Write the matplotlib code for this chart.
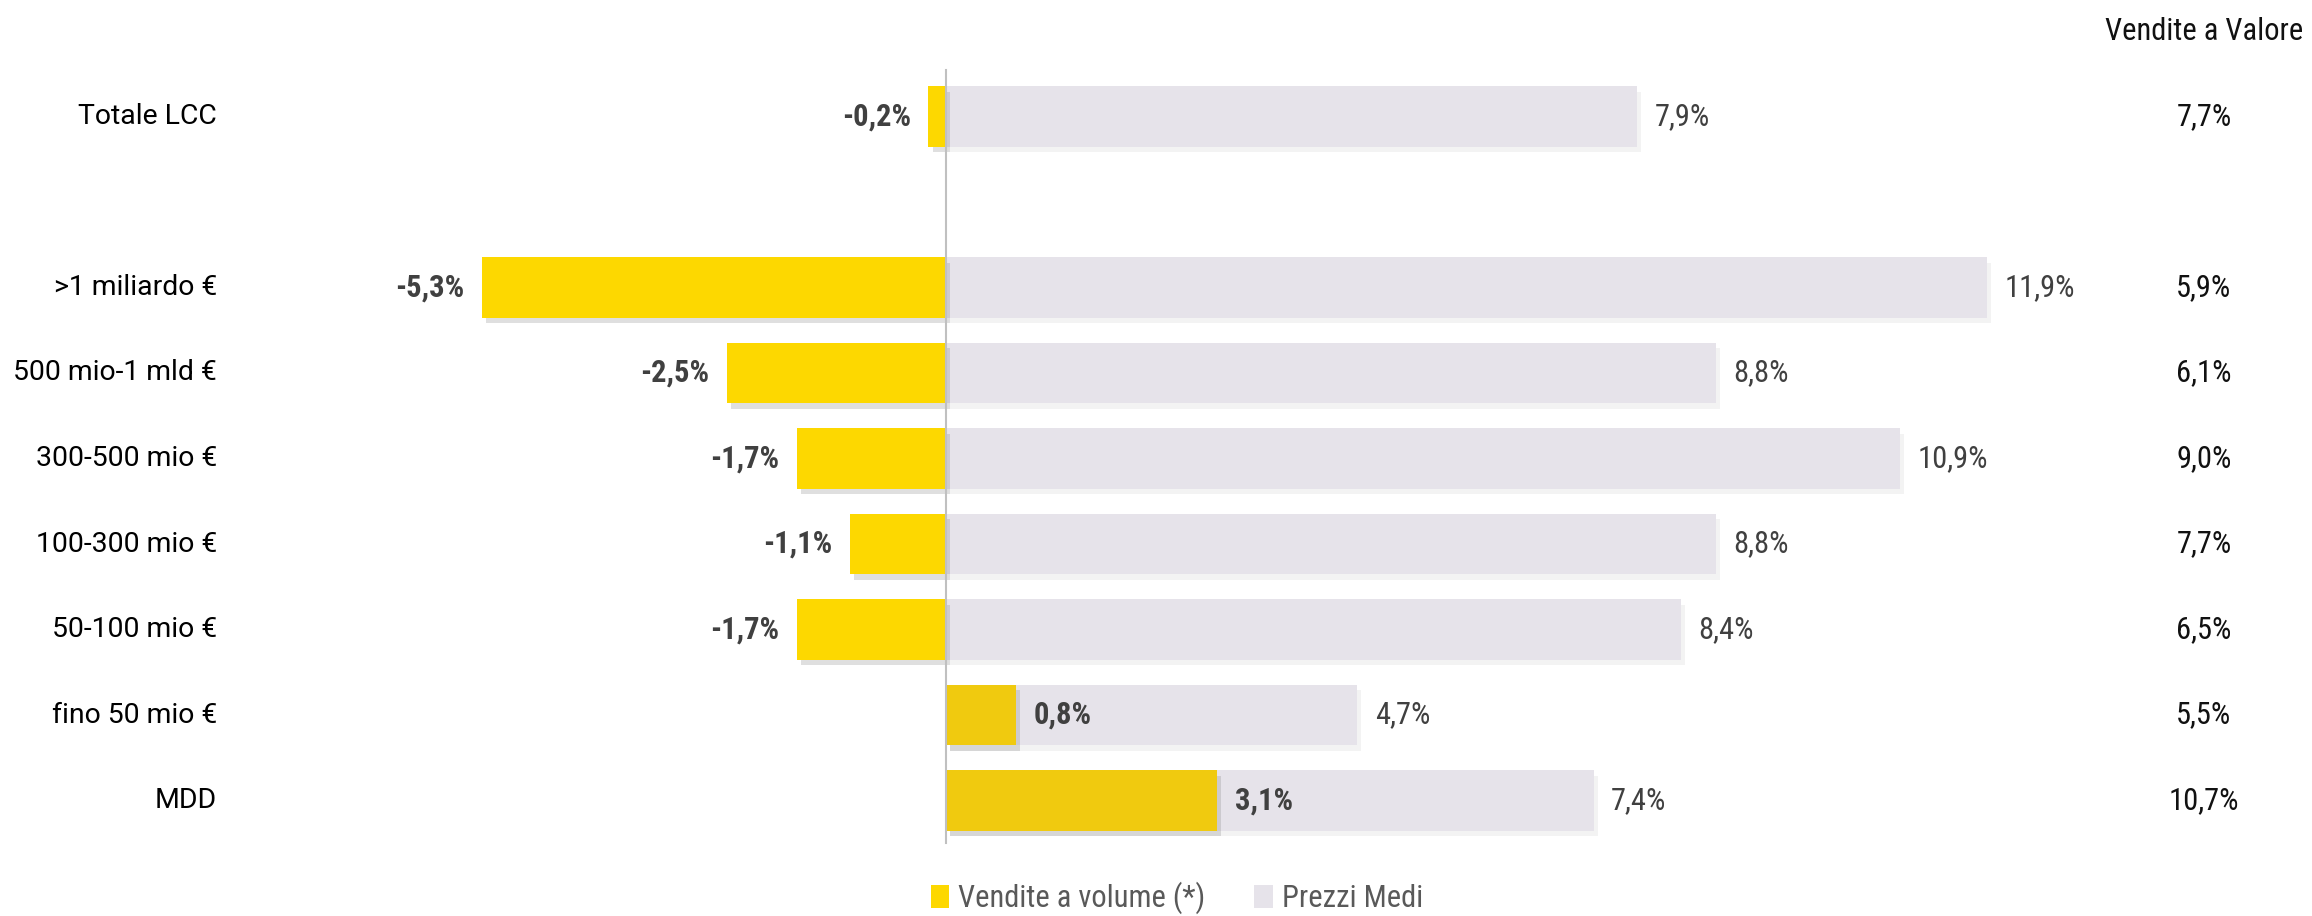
import matplotlib.pyplot as plt
import matplotlib.patheffects as pe
from matplotlib.patches import Patch


categories = [
    "Totale LCC",
    ">1 miliardo €",
    "500 mio-1 mld €",
    "300-500 mio €",
    "100-300 mio €",
    "50-100 mio €",
    "fino 50 mio €",
    "MDD",
]
vendite_volume = [-0.2, -5.3, -2.5, -1.7, -1.1, -1.7, 0.8, 3.1]
prezzi_medi = [7.9, 11.9, 8.8, 10.9, 8.8, 8.4, 4.7, 7.4]
vendite_valore = [7.7, 5.9, 6.1, 9.0, 7.7, 6.5, 5.5, 10.7]

YELLOW_NEG = "#FDD800"
YELLOW_POS = "#F0CA0F"
GREY_BAR = "#E6E3EA"
LABEL_COLOR = "#404040"
LABEL_FONT = "Roboto"
VALUE_FONT = ["Roboto Condensed", "Liberation Sans Narrow", "DejaVu Sans"]

W, H = 2312, 916
PX_PER_UNIT = 87.5
ZERO_PX = 946
ROW_TOP_PX = 116.5
ROW_STEP_PX = 85.5
BAR_HEIGHT = 0.71


def fmt(v):
    return f"{v:.1f}".replace(".", ",") + "%"


# the total row sits apart from the size classes, with one empty slot between
ypos = [0] + [i + 1 for i in range(1, len(categories))]

fig = plt.figure(figsize=(W / 100, H / 100), dpi=100)
ax = fig.add_axes([0, 0, 1, 1])
ax.set_xlim(-ZERO_PX / PX_PER_UNIT, (W - ZERO_PX) / PX_PER_UNIT)
ax.set_ylim((H - ROW_TOP_PX) / ROW_STEP_PX, -ROW_TOP_PX / ROW_STEP_PX)
ax.axis("off")

shadow = [pe.SimplePatchShadow(offset=(3, -4), shadow_rgbFace="#808080", alpha=0.25), pe.Normal()]
shadow_light = [pe.SimplePatchShadow(offset=(3, -4), shadow_rgbFace="#b0b0b0", alpha=0.15), pe.Normal()]

grey = ax.barh(ypos, prezzi_medi, height=BAR_HEIGHT, color=GREY_BAR, zorder=1)
for b in grey:
    b.set_path_effects(shadow_light)

vol_colors = [YELLOW_POS if v > 0 else YELLOW_NEG for v in vendite_volume]
yellow = ax.barh(ypos, vendite_volume, height=BAR_HEIGHT, color=vol_colors, zorder=2)
for b in yellow:
    b.set_path_effects(shadow)

# zero line
ax.plot([0, 0], [-0.545, 8.5], color="#c0c0c0", lw=1.5, zorder=3)

gap = 0.2
for y, cat, v, p, tot in zip(ypos, categories, vendite_volume, prezzi_medi, vendite_valore):
    ax.text((217 - ZERO_PX) / PX_PER_UNIT, y, cat, ha="right", va="center",
            fontsize=20.4, family=LABEL_FONT, color="black")
    if v < 0:
        ax.text(v - gap, y, fmt(v), ha="right", va="center", fontsize=22,
                family=VALUE_FONT, fontweight="bold", color=LABEL_COLOR, zorder=4)
    else:
        ax.text(v + gap, y, fmt(v), ha="left", va="center", fontsize=22,
                family=VALUE_FONT, fontweight="bold", color=LABEL_COLOR, zorder=4)
    ax.text(p + gap, y, fmt(p), ha="left", va="center", fontsize=22,
            family=VALUE_FONT, color=LABEL_COLOR, zorder=4)
    ax.text((2204 - ZERO_PX) / PX_PER_UNIT, y, fmt(tot), ha="center", va="center",
            fontsize=22, family=VALUE_FONT, color="#111111")

fig.text(2204 / W, 1 - 32 / H, "Vendite a Valore", ha="center", va="center",
         fontsize=22, family=VALUE_FONT, color="#111111")

handles = [
    Patch(facecolor=YELLOW_NEG, label="Vendite a volume (*)"),
    Patch(facecolor=GREY_BAR, label="Prezzi Medi"),
]
leg = fig.legend(handles=handles, loc="center", bbox_to_anchor=(1177 / W, 1 - 898 / H),
                 ncol=2, frameon=False, handlelength=0.6, handleheight=0.75,
                 handletextpad=0.3, columnspacing=1.6,
                 prop={"family": VALUE_FONT, "size": 22})
for t in leg.get_texts():
    t.set_color("#595959")

fig.savefig("out.png", dpi=100)
